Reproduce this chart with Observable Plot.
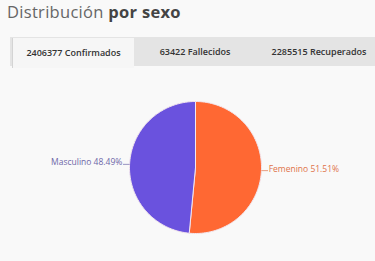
<!DOCTYPE html>
<html>
<head>
<meta charset="utf-8">
<script src="https://cdn.jsdelivr.net/npm/d3@7"></script>
<script src="https://cdn.jsdelivr.net/npm/@observablehq/plot@0.6"></script>
<style>
  html, body { margin: 0; padding: 0; background: #f9f9f9; width: 375px; height: 261px; overflow: hidden; font-family: "Open Sans", Lato, sans-serif; }
  .title { position: absolute; left: 7px; top: 0px; font-size: 16.5px; color: #666; letter-spacing: 0.3px; }
  .title b { color: #444; font-weight: 700; }
  .tabs { position: absolute; left: 10px; top: 37px; width: 365px; height: 29px; background: #e4e4e4; }
  .tab { position: absolute; top: 0; height: 29px; line-height: 29px; font-size: 9px; font-weight: 600; color: #333; text-align: center; }
  .tab.active { background: #f6f6f6; border-left: 1px solid #d4d4d4; top: 1px; height: 30px; }
  #chart { position: absolute; left: 0; top: 68px; }
</style>
</head>
<body>
<div class="title">Distribución <b>por sexo</b></div>
<div class="tabs" id="tabs"></div>
<div id="chart"></div>
<script>
const categories = ["Femenino", "Masculino"];
const percents = [51.51, 48.49];
const tabCounts = ["2406377", "63422", "2285515"];
const tabNames = ["Confirmados", "Fallecidos", "Recuperados"];
const colors = ["#ff6833", "#6a52de"];
const labelColors = ["#e0734a", "#6e67a8"];

// tabs
const tabPos = [[2, 121], [125, 120], [249, 120]];
const tabsEl = document.getElementById("tabs");
tabCounts.forEach((c, i) => {
  const d = document.createElement("div");
  d.className = "tab" + (i === 0 ? " active" : "");
  d.style.left = tabPos[i][0] + "px";
  d.style.width = tabPos[i][1] + "px";
  d.textContent = c + " " + tabNames[i];
  tabsEl.appendChild(d);
});

// pie geometry from data
const data = categories.map((name, i) => ({name, value: percents[i]}));
const arcs = d3.pie().sort(null).value(d => d.value)(data);
const pts = [];
arcs.forEach(a => {
  const n = 120;
  pts.push({name: a.data.name, x: 0, y: 0});
  for (let k = 0; k <= n; k++) {
    const t = a.startAngle + (a.endAngle - a.startAngle) * k / n;
    pts.push({name: a.data.name, x: Math.sin(t), y: Math.cos(t)});
  }
  pts.push({name: a.data.name, x: 0, y: 0});
});
const labels = arcs.map(a => {
  const m = (a.startAngle + a.endAngle) / 2;
  const sx = Math.sin(m), cy = Math.cos(m);
  const right = sx > 0;
  const x1 = sx * 1.0, y1 = cy * 1.0;
  const x2 = x1 + (right ? 0.1 : -0.1);
  return {
    name: a.data.name,
    right,
    text: `${a.data.name} ${a.data.value.toFixed(2)}%`,
    x1, y1, x2, y2: y1,
    tx: x2 + (right ? 0.01 : -0.01), ty: y1
  };
});
const lc = d => labelColors[categories.indexOf(d.name)];

const W = 375, H = 193, cx = 195, cyp = 99, R = 66;
const chart = Plot.plot({
  width: W, height: H,
  margin: 0,
  style: {background: "transparent", fontFamily: "Open Sans, Lato, sans-serif"},
  x: {domain: [-cx / R, (W - cx) / R], range: [0, W], axis: null},
  y: {domain: [-(H - cyp) / R, cyp / R], range: [H, 0], axis: null},
  color: {domain: categories, range: colors},
  marks: [
    Plot.line(pts, {x: "x", y: "y", z: "name", fill: "name", stroke: "#f3e6ee", strokeWidth: 1, curve: "linear"}),
    Plot.link(labels, {x1: "x1", y1: "y1", x2: "x2", y2: "y2", stroke: lc, strokeWidth: 0.7}),
    Plot.text(labels.filter(d => d.right), {x: "tx", y: "ty", text: "text", textAnchor: "start", lineAnchor: "bottom", dy: 1, fontSize: 8.5, fill: lc}),
    Plot.text(labels.filter(d => !d.right), {x: "tx", y: "ty", text: "text", textAnchor: "end", lineAnchor: "bottom", dy: 1, fontSize: 8.5, fill: lc})
  ]
});
document.getElementById("chart").appendChild(chart);
</script>
</body>
</html>
